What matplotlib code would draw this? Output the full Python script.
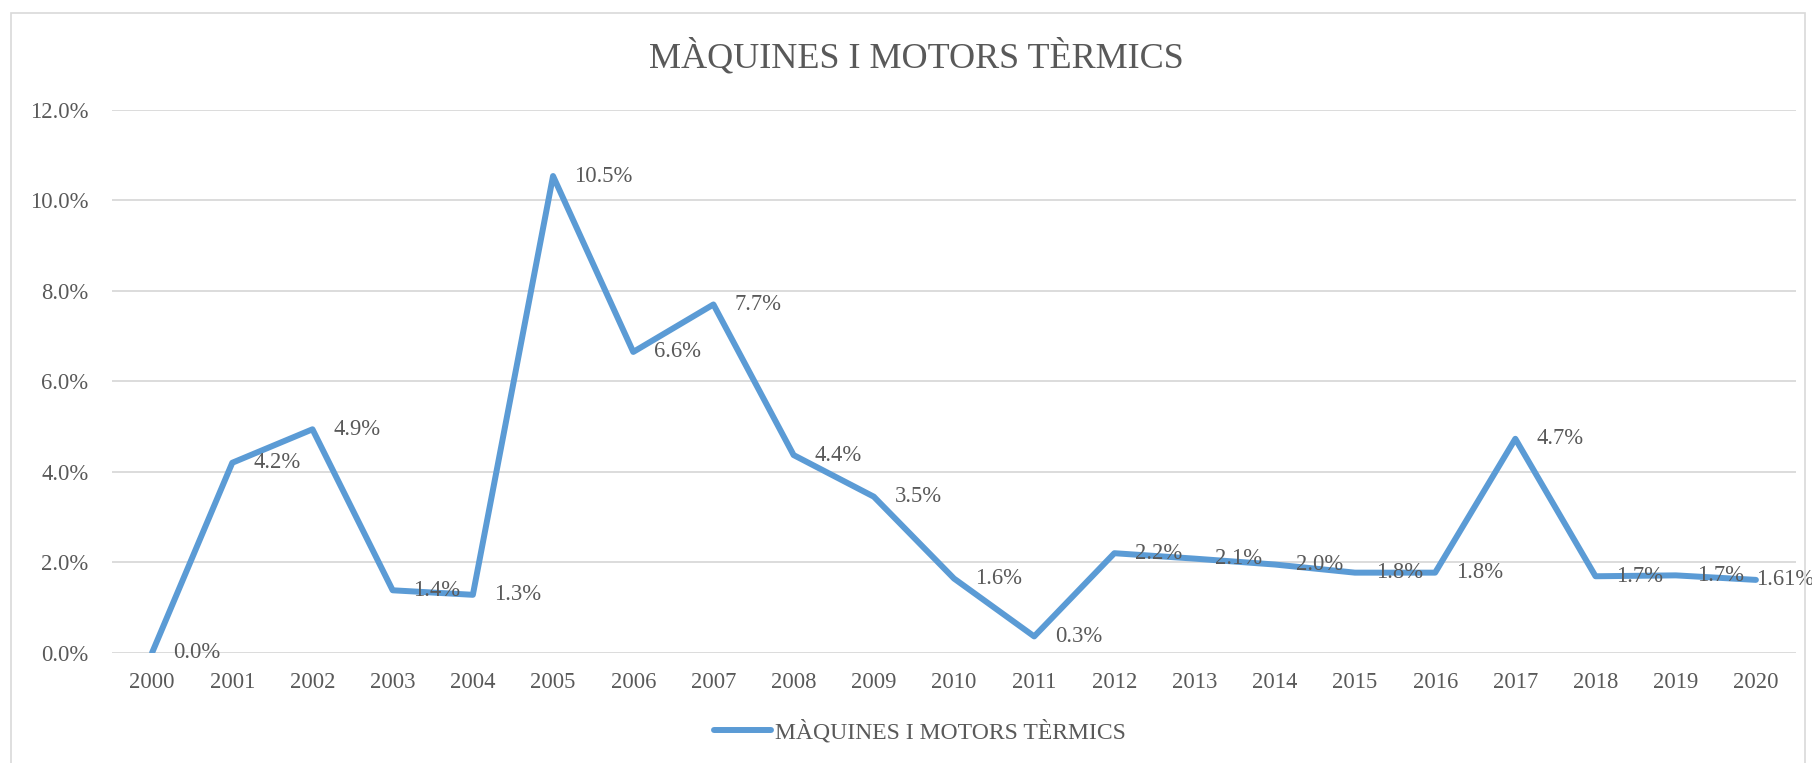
import matplotlib
matplotlib.use("Agg")
import matplotlib.pyplot as plt
from matplotlib.patches import Rectangle

# ----- Dades -----
anys = ['2000', '2001', '2002', '2003', '2004', '2005', '2006', '2007', '2008', '2009', '2010',
        '2011', '2012', '2013', '2014', '2015', '2016', '2017', '2018', '2019', '2020']
valors = [0.0, 4.2, 4.94, 1.38, 1.28, 10.54, 6.65, 7.70, 4.37, 3.45, 1.64,
          0.36, 2.20, 2.08, 1.95, 1.77, 1.77, 4.73, 1.69, 1.71, 1.61]
etiquetes = ['0.0%', '4.2%', '4.9%', '1.4%', '1.3%', '10.5%', '6.6%', '7.7%', '4.4%', '3.5%', '1.6%',
             '0.3%', '2.2%', '2.1%', '2.0%', '1.8%', '1.8%', '4.7%', '1.7%', '1.7%', '1.61%']
yticks = [0, 2, 4, 6, 8, 10, 12]
titol = 'MÀQUINES I MOTORS TÈRMICS'

gris = '#595959'
blau = '#5B9BD5'
plt.rcParams['font.family'] = ['Liberation Serif', 'DejaVu Serif']

W, H = 1812, 763
fig = plt.figure(figsize=(W / 100, H / 100), dpi=100)

# marc exterior del grafic
fig.patches.append(Rectangle((11 / W, -0.05), 1794 / W, 1.05 - 13 / H, transform=fig.transFigure,
                             fill=False, edgecolor='#D9D9D9', linewidth=1.2))

ax = fig.add_axes([112 / W, (H - 652.7) / H, (1796 - 112) / W, (652.7 - 110) / H])
x = list(range(len(anys)))
ax.plot(x, valors, color=blau, linewidth=4.3, solid_capstyle='round', solid_joinstyle='round',
        label=titol, zorder=3)

for xi, v, lab in zip(x, valors, etiquetes):
    # l'ultima etiqueta queda enganxada al punt (Excel la desplaça per no sortir)
    dx = 0 if xi == len(anys) - 1 else 15
    ax.annotate(lab, (xi, v), xytext=(dx, 0), textcoords='offset points',
                ha='left', va='center', fontsize=16.3, color=gris, zorder=4, annotation_clip=False)

ax.set_xlim(-0.5, len(anys) - 0.5)
ax.set_ylim(0, 12)
ax.set_yticks(yticks)
ax.set_yticklabels([f'{t:.1f}%' for t in yticks])
ax.set_xticks(x)
ax.set_xticklabels(anys)
ax.tick_params(axis='both', length=0, labelsize=16.3, labelcolor=gris)
ax.tick_params(axis='y', pad=17)
ax.tick_params(axis='x', pad=14)
ax.grid(axis='y', color='#D9D9D9', linewidth=1.3)
ax.set_axisbelow(True)
for s in ax.spines.values():
    s.set_visible(False)

fig.text(916 / W, 1 - 57 / H, titol, ha='center', va='center', fontsize=26, color=gris)

leg = fig.legend(loc='center', bbox_to_anchor=(920 / W, 1 - 732 / H), frameon=False,
                 fontsize=17, handlelength=2.4, handletextpad=0.2, labelcolor=gris)

fig.savefig('out.png', dpi=100)
